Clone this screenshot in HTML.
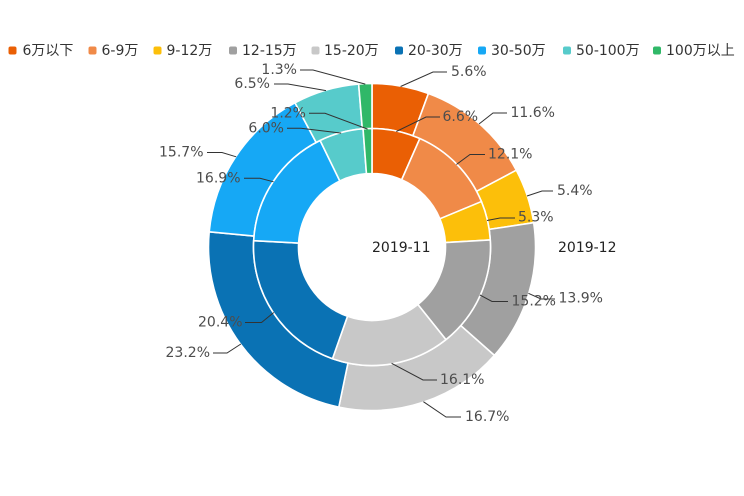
<!DOCTYPE html>
<html>
<head>
<meta charset="utf-8">
<style>
  html,body{margin:0;padding:0;background:#fff;}
  svg{display:block;}
  text{font-family:"DejaVu Sans","Liberation Sans","Noto Sans CJK SC",sans-serif;font-size:14px;}
  .lg{fill:#333;}
  .lb{fill:#4d4d4d;}
  .ll{fill:none;stroke:#333;stroke-width:1;}
</style>
</head>
<body>
<svg id="c" width="744" height="496" viewBox="0 0 744 496" xmlns="http://www.w3.org/2000/svg">
  <rect width="744" height="496" fill="#fff"/>
  <g id="slices"></g>

  <!-- legend -->
  <g>
    <rect x="8.5" y="46.5" width="8" height="8" rx="2" fill="#ea5f04"/>
    <text class="lg" x="22.5" y="51" dominant-baseline="central">6万以下</text>
    <rect x="88.5" y="46.5" width="8" height="8" rx="2" fill="#f08a48"/>
    <text class="lg" x="101.5" y="51" dominant-baseline="central">6-9万</text>
    <rect x="153.5" y="46.5" width="8" height="8" rx="2" fill="#fcbf0a"/>
    <text class="lg" x="166.5" y="51" dominant-baseline="central">9-12万</text>
    <rect x="229" y="46.5" width="8" height="8" rx="2" fill="#a0a0a0"/>
    <text class="lg" x="242" y="51" dominant-baseline="central">12-15万</text>
    <rect x="311.5" y="46.5" width="8" height="8" rx="2" fill="#c8c8c8"/>
    <text class="lg" x="324" y="51" dominant-baseline="central">15-20万</text>
    <rect x="395" y="46.5" width="8" height="8" rx="2" fill="#0a72b4"/>
    <text class="lg" x="408" y="51" dominant-baseline="central">20-30万</text>
    <rect x="478" y="46.5" width="8" height="8" rx="2" fill="#16a8f5"/>
    <text class="lg" x="491" y="51" dominant-baseline="central">30-50万</text>
    <rect x="563" y="46.5" width="8" height="8" rx="2" fill="#57cbcb"/>
    <text class="lg" x="576" y="51" dominant-baseline="central">50-100万</text>
    <rect x="653" y="46.5" width="8" height="8" rx="2" fill="#30b868"/>
    <text class="lg" x="666" y="51" dominant-baseline="central">100万以上</text>
  </g>

  <!-- label lines -->
  <g>
    <!-- outer -->
    <polyline class="ll" points="400.6,86.5 433,72 447,72"/>
    <polyline class="ll" points="479,124 493,113 507,113"/>
    <polyline class="ll" points="527,196 542,191 553,191"/>
    <polyline class="ll" points="528.4,293.3 541,299 555,299"/>
    <polyline class="ll" points="423.4,401.7 446,417 461,417"/>
    <polyline class="ll" points="240.9,344 227,353 213,353"/>
    <polyline class="ll" points="236.2,156.8 222,152.5 207,152.5"/>
    <polyline class="ll" points="326,90.6 288,84 274,84"/>
    <polyline class="ll" points="365.3,84.1 313,70 300,70"/>
    <!-- inner -->
    <polyline class="ll" points="396.3,131.5 426,117 440,117"/>
    <polyline class="ll" points="456.4,164.5 470,154.5 485,154.5"/>
    <polyline class="ll" points="487,220.5 500,218 515,218"/>
    <polyline class="ll" points="479.8,294.9 492,301.5 508,301.5"/>
    <polyline class="ll" points="391.6,363.3 423,380 437,380"/>
    <polyline class="ll" points="273.8,312.5 261.5,322.5 245,322.5"/>
    <polyline class="ll" points="273.6,181.8 260,178.3 244,178.3"/>
    <polyline class="ll" points="341.2,133.1 301,128.3 287,128.3"/>
    <polyline class="ll" points="367.6,129.1 325,113.3 309,113.3"/>
  </g>

  <!-- labels -->
  <g class="lb">
    <text class="lb" x="451" y="72" dominant-baseline="central">5.6%</text>
    <text class="lb" x="510.5" y="113" dominant-baseline="central">11.6%</text>
    <text class="lb" x="557" y="191" dominant-baseline="central">5.4%</text>
    <text class="lb" x="558.5" y="298.5" dominant-baseline="central">13.9%</text>
    <text class="lb" x="465" y="417" dominant-baseline="central">16.7%</text>
    <text class="lb" x="210" y="353" dominant-baseline="central" text-anchor="end">23.2%</text>
    <text class="lb" x="203.5" y="152.5" dominant-baseline="central" text-anchor="end">15.7%</text>
    <text class="lb" x="270" y="84" dominant-baseline="central" text-anchor="end">6.5%</text>
    <text class="lb" x="297" y="70" dominant-baseline="central" text-anchor="end">1.3%</text>

    <text class="lb" x="442.5" y="117" dominant-baseline="central">6.6%</text>
    <text class="lb" x="488" y="154.5" dominant-baseline="central">12.1%</text>
    <text class="lb" x="518" y="217.5" dominant-baseline="central">5.3%</text>
    <text class="lb" x="511.5" y="301.5" dominant-baseline="central">15.2%</text>
    <text class="lb" x="440" y="380" dominant-baseline="central">16.1%</text>
    <text class="lb" x="242.5" y="322.5" dominant-baseline="central" text-anchor="end">20.4%</text>
    <text class="lb" x="240.5" y="178.3" dominant-baseline="central" text-anchor="end">16.9%</text>
    <text class="lb" x="284" y="128.3" dominant-baseline="central" text-anchor="end">6.0%</text>
    <text class="lb" x="306" y="113.3" dominant-baseline="central" text-anchor="end">1.2%</text>
  </g>

  <text x="372" y="248" dominant-baseline="central" fill="#222">2019-11</text>
  <text x="558" y="248" dominant-baseline="central" fill="#222">2019-12</text>
</svg>
<script>
(function(){
  var cx=372, cy=247;
  var colors=["#ea5f04","#f08a48","#fcbf0a","#a0a0a0","#c8c8c8","#0a72b4","#16a8f5","#57cbcb","#30b868"];
  var inner=[6.6,12.1,5.3,15.2,16.1,20.4,16.9,6.0,1.2];
  var outer=[5.6,11.6,5.4,13.9,16.7,23.2,15.7,6.5,1.3];
  var g=document.getElementById("slices");
  function pt(r,a){var t=a*Math.PI/180;return [cx+r*Math.sin(t), cy-r*Math.cos(t)];}
  function ring(data,r0,r1){
    var s=0;data.forEach(function(v){s+=v;});
    var a=0;
    data.forEach(function(v,i){
      var b=a+v/s*360;
      var p1=pt(r1,a),p2=pt(r1,b),p3=pt(r0,b),p4=pt(r0,a);
      var lg=(b-a)>180?1:0;
      var d="M"+p1[0].toFixed(2)+","+p1[1].toFixed(2)+
        " A"+r1+","+r1+" 0 "+lg+" 1 "+p2[0].toFixed(2)+","+p2[1].toFixed(2)+
        " L"+p3[0].toFixed(2)+","+p3[1].toFixed(2)+
        " A"+r0+","+r0+" 0 "+lg+" 0 "+p4[0].toFixed(2)+","+p4[1].toFixed(2)+" Z";
      var el=document.createElementNS("http://www.w3.org/2000/svg","path");
      el.setAttribute("d",d);
      el.setAttribute("fill",colors[i]);
      el.setAttribute("stroke","#fff");
      el.setAttribute("stroke-width","1.6");
      el.setAttribute("stroke-linejoin","round");
      g.appendChild(el);
      a=b;
    });
  }
  ring(outer,118.5,163.5);
  ring(inner,73.5,118.5);
})();
</script>
</body>
</html>
